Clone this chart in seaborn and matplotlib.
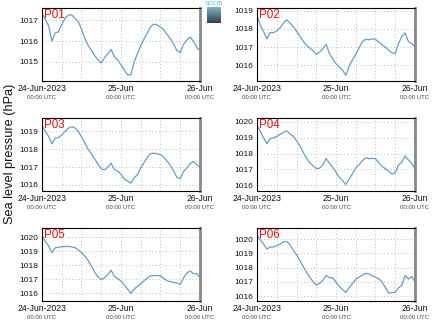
import numpy as np
import pandas as pd
import matplotlib
matplotlib.use("Agg")
import matplotlib.pyplot as plt
import matplotlib.transforms as mtransforms
import seaborn as sns

# ---------------- data (hourly, hours since 24-Jun-2023 00:00 UTC) ----------------
hours = list(range(49))

p01 = [1017.35, 1017.05, 1016.75, 1016.0, 1016.4, 1016.45, 1016.8, 1017.1, 1017.25, 1017.28,
       1017.1, 1016.95, 1016.58, 1016.14, 1015.8, 1015.57, 1015.3, 1015.1, 1014.95, 1015.2,
       1015.4, 1015.6, 1015.25, 1015.1, 1014.85, 1014.6, 1014.38, 1014.38, 1015.0, 1015.4,
       1015.8, 1016.1, 1016.4, 1016.7, 1016.82, 1016.78, 1016.68, 1016.55, 1016.32, 1016.12,
       1015.85, 1015.55, 1015.45, 1015.85, 1016.05, 1016.2, 1016.0, 1015.7, 1015.55]
p02 = [1018.75, 1018.2, 1017.85, 1017.45, 1017.8, 1017.78, 1017.89, 1018.05, 1018.3, 1018.5,
       1018.32, 1018.12, 1017.87, 1017.6, 1017.33, 1017.1, 1016.95, 1016.8, 1016.6, 1016.72,
       1016.9, 1017.15, 1016.65, 1016.35, 1016.09, 1015.91, 1015.73, 1015.45, 1015.95, 1016.3,
       1016.6, 1016.95, 1017.3, 1017.42, 1017.4, 1017.45, 1017.42, 1017.28, 1017.12, 1017.0,
       1016.83, 1016.68, 1016.65, 1017.2, 1017.58, 1017.78, 1017.3, 1017.2, 1016.99]
p03 = [1019.35, 1019.0, 1018.72, 1018.3, 1018.62, 1018.65, 1018.8, 1019.0, 1019.18, 1019.26,
       1019.2, 1019.0, 1018.7, 1018.35, 1018.0, 1017.75, 1017.45, 1017.17, 1016.9, 1016.85,
       1017.0, 1017.22, 1016.85, 1016.77, 1016.6, 1016.32, 1016.23, 1016.1, 1016.4, 1016.58,
       1016.95, 1017.25, 1017.55, 1017.76, 1017.78, 1017.74, 1017.7, 1017.55, 1017.33, 1017.1,
       1016.77, 1016.42, 1016.35, 1016.75, 1016.95, 1017.2, 1017.3, 1017.15, 1016.97]
p04 = [1019.8, 1019.41, 1019.0, 1018.62, 1018.95, 1019.0, 1019.08, 1019.22, 1019.33, 1019.44,
       1019.25, 1019.1, 1018.82, 1018.5, 1018.1, 1017.72, 1017.43, 1017.23, 1017.05, 1017.08,
       1017.3, 1017.7, 1017.39, 1017.15, 1016.82, 1016.5, 1016.3, 1016.05, 1016.4, 1016.73,
       1017.1, 1017.3, 1017.55, 1017.74, 1017.68, 1017.7, 1017.68, 1017.42, 1017.2, 1017.05,
       1016.9, 1016.72, 1016.8, 1017.29, 1017.45, 1017.85, 1017.6, 1017.4, 1017.03]
p05 = [1020.15, 1019.7, 1019.4, 1018.9, 1019.25, 1019.3, 1019.33, 1019.35, 1019.35, 1019.32,
       1019.27, 1019.1, 1018.9, 1018.67, 1018.35, 1017.95, 1017.5, 1017.18, 1016.98, 1017.1,
       1017.35, 1017.65, 1017.22, 1017.05, 1016.87, 1016.6, 1016.3, 1016.0, 1016.3, 1016.5,
       1016.68, 1016.9, 1017.1, 1017.25, 1017.27, 1017.27, 1017.25, 1017.05, 1016.9, 1016.83,
       1016.78, 1016.74, 1016.62, 1017.1, 1017.44, 1017.6, 1017.4, 1017.4, 1017.13]
p06 = [1020.27, 1019.95, 1019.65, 1019.3, 1019.45, 1019.44, 1019.54, 1019.64, 1019.8, 1019.84,
       1019.6, 1019.22, 1018.9, 1018.5, 1018.08, 1017.7, 1017.33, 1017.02, 1016.77, 1016.88,
       1017.1, 1017.45, 1017.29, 1017.28, 1016.98, 1016.68, 1016.46, 1016.25, 1016.6, 1016.87,
       1017.18, 1017.33, 1017.46, 1017.6, 1017.55, 1017.42, 1017.32, 1017.22, 1016.98, 1016.6,
       1016.2, 1016.24, 1016.26, 1016.58, 1016.75, 1017.45, 1017.2, 1017.36, 1017.0]

stations = ["P01", "P02", "P03", "P04", "P05", "P06"]
series = [p01, p02, p03, p04, p05, p06]
ylims = [(1014.08, 1017.6), (1015.14, 1019.14), (1015.66, 1019.75),
         (1015.64, 1020.25), (1015.45, 1020.67), (1015.65, 1020.78)]
yticks = [[1015, 1016, 1017], [1016, 1017, 1018, 1019], [1016, 1017, 1018, 1019],
          [1016, 1017, 1018, 1019, 1020], [1016, 1017, 1018, 1019, 1020],
          [1016, 1017, 1018, 1019, 1020]]
xtick_hours = [0, 24, 48]
xtick_dates = ["24-Jun-2023", "25-Jun", "26-Jun"]
xtick_times = ["00:00 UTC", "00:00 UTC", "00:00 UTC"]
ylabel = "Sea level pressure (hPa)"

# ---------------- style ----------------
sns.set_style("white")
plt.rcParams["font.family"] = ["Liberation Sans", "DejaVu Sans"]

W, H = 435, 327
fig = plt.figure(figsize=(W / 100, H / 100), dpi=100)

cols = [(42, 200), (257, 415)]
rows = [(8, 81), (118, 191), (228, 301)]
line_color = "#6a9cc9"

for i, (name, vals) in enumerate(zip(stations, series)):
    r, c = divmod(i, 2)
    x0, x1 = cols[c]
    y0, y1 = rows[r]
    ax = fig.add_axes([x0 / W, 1 - y1 / H, (x1 - x0) / W, (y1 - y0) / H])
    df = pd.DataFrame({"hour": hours, "slp": vals})
    sns.lineplot(data=df, x="hour", y="slp", ax=ax, color=line_color, lw=0.9)
    ax.set_xlim(0, 48)
    ax.set_ylim(*ylims[i])
    ax.set_xlabel("")
    ax.set_ylabel("")
    ax.set_xticks(range(0, 49, 6), minor=True)
    ax.set_xticks(xtick_hours)
    ax.set_xticklabels(xtick_dates, fontsize=6.2, color="#111111")
    ax.set_yticks(yticks[i])
    ax.set_yticklabels([str(v) for v in yticks[i]], fontsize=6.0, color="#111111")
    ax.tick_params(axis="both", which="both", length=0, pad=2.5)
    ax.grid(True, which="both", axis="x", ls=(0, (1, 3)), color="#aaaaaa", lw=0.6)
    ax.grid(True, which="major", axis="y", ls=(0, (1, 3)), color="#aaaaaa", lw=0.6)
    for side in ["left", "top", "bottom"]:
        ax.spines[side].set_color("#000000")
        ax.spines[side].set_linewidth(0.8)
    ax.spines["right"].set_color("#888888")
    ax.spines["right"].set_linewidth(2.0)
    trans = mtransforms.blended_transform_factory(ax.transData, ax.transAxes)
    for hx, t in zip(xtick_hours, xtick_times):
        ax.text(hx, -0.19, t, transform=trans, ha="center", va="top",
                fontsize=4.3, color="#444444")
    ax.text(0.01, 0.99, name, transform=ax.transAxes, ha="left", va="top",
            fontsize=8.4, color="#ee1111")

fig.text(10 / W, 1 - 154 / H, ylabel, rotation=90, ha="center", va="center",
         fontsize=9.2, color="#111111")

# logo
lax = fig.add_axes([207 / W, 1 - 23 / H, 14 / W, 16 / H])
grad = np.linspace(0, 1, 32).reshape(-1, 1)
lax.imshow(grad, aspect="auto", cmap=sns.blend_palette(["#7fb2c2", "#2f4250"], as_cmap=True))
lax.axis("off")
fig.text(214 / W, 1 - 1 / H, "SOCIB", ha="center", va="top", fontsize=4.2, color="#3fbfd6")

fig.savefig("out.png", dpi=100)
